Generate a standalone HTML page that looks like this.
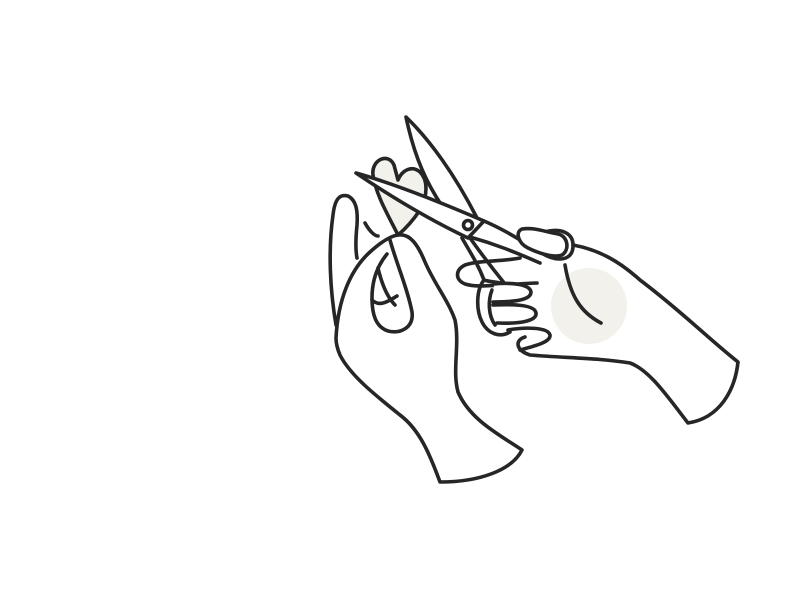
<!DOCTYPE html>
<html><head><style>html,body{margin:0;padding:0;background:#fff;width:800px;height:600px;overflow:hidden}</style></head>
<body>
<svg width="800" height="600" viewBox="0 0 800 600" xmlns="http://www.w3.org/2000/svg">
<g fill="none" stroke="#262626" stroke-width="3.6" stroke-linecap="round" stroke-linejoin="round">
<circle cx="589" cy="306" r="38" fill="#f3f1ec" stroke="none"/>
<!-- heart -->
<path d="M398,235 C388,215 376,195 373,175 C371,160 388,152 394,165 L398,180 C402,170 412,165 420,172 C428,180 428,195 420,210 C412,222 404,230 398,235 Z" fill="#f3f1ec"/>
<!-- right hand -->
<path d="M573,245 C600,250 620,262 640,280 C680,310 710,340 738,362 C735,390 720,418 688,423 C670,400 650,370 630,363 C600,358 565,358 530,355 C515,350 515,340 525,337"/>
<path d="M565,265 C570,295 580,312 601,323"/>
<!-- upper blade -->
<path d="M406,117 C430,140 455,175 477,218 L442,206 C428,185 415,160 406,117 Z" fill="#fff"/>
<!-- lower blade -->
<path d="M356,173 C395,184 440,202 484,221 L468,238 C430,220 390,196 356,173 Z" fill="#fff"/>
<circle cx="468" cy="225" r="4.5" fill="#fff"/>
<!-- index finger -->
<path d="M520,258 C500,262 480,260 465,265 C455,270 455,280 465,284 C478,288 490,285 537,283"/>
<!-- upper ring handle -->
<path d="M484,221 C505,230 520,240 540,252 C555,262 572,262 573,247 C574,232 560,228 545,232"/>
<path d="M470,237 C495,244 515,252 540,263"/>
<!-- thumb in upper ring -->
<path d="M522,229 C515,232 518,243 528,248 C540,254 555,258 562,255 C570,250 568,236 558,234 C545,232 535,227 522,229 Z" fill="#fff"/>
<!-- lower handle + ring -->
<path d="M470,238 C480,252 492,268 505,284" />
<path d="M462,238 C470,252 478,264 484,280"/>
<path d="M484,280 C476,290 476,310 482,322 C488,334 500,338 510,332 M505,284 C498,282 490,282 484,280"/>
<path d="M492,290 C488,300 488,315 495,325"/>
<!-- lower fingers -->
<path d="M494,284 C515,282 530,285 531,292 C531,300 515,302 493,302" fill="#fff"/>
<path d="M493,305 C515,304 535,305 536,313 C537,321 520,324 497,323" fill="#fff"/>
<path d="M508,330 C525,327 548,327 550,335 C551,342 535,346 520,350"/>
<!-- left hand -->
<path d="M336,325 C330,290 328,250 333,215 C335,198 340,194 348,196 C356,200 358,210 357,225 C356,235 355,248 357,258"/>
<path d="M365,223 C370,232 375,236 378,236"/>
<path d="M336,338 C338,300 350,270 370,252 C380,243 390,236 398,235 C410,233 418,245 425,262 C435,285 448,300 455,320 C460,345 452,370 458,392 C470,420 500,435 522,450 C512,470 480,482 440,482 C430,455 420,430 400,415 C375,395 350,375 340,355 C337,348 336,342 336,338"/>
<path d="M390,240 C396,262 408,290 412,312 C414,328 400,334 388,331 C376,327 372,315 372,298 C372,280 378,265 387,254"/>
<path d="M378,268 C382,285 388,298 395,305 M372,300 C380,308 390,300 397,296"/>
</g>
</svg>
</body></html>
